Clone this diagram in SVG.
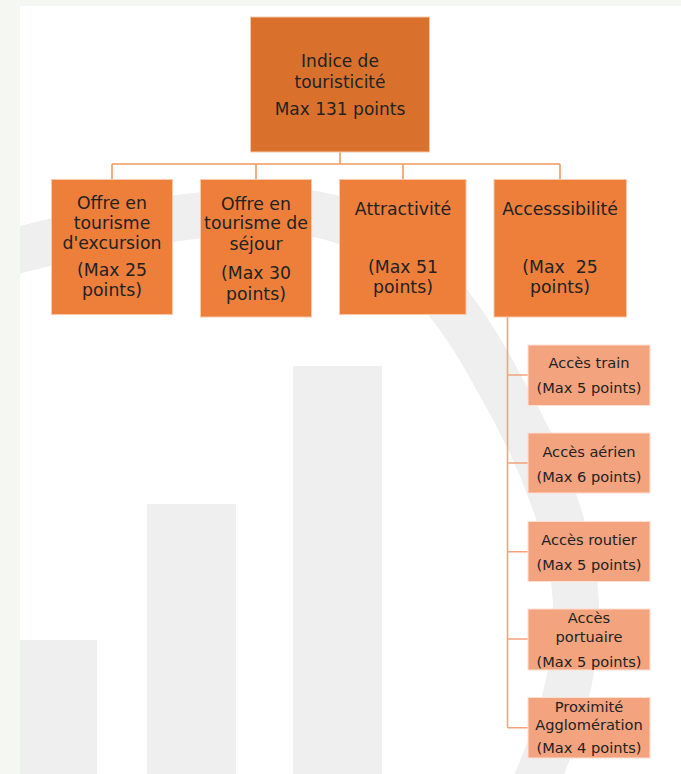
<svg xmlns="http://www.w3.org/2000/svg" width="681" height="774" viewBox="0 0 681 774">
<style>
  .bg { fill: #efefef; }
  .top { fill: #d9712d; stroke: #f6c9ad; stroke-width: 1; }
  .l1 { fill: #ee7f3b; stroke: #f8c9ab; stroke-width: 1; }
  .l2 { fill: #f3a47f; stroke: #fbe0d2; stroke-width: 1; }
  .conn { fill: none; stroke: #f09a62; stroke-width: 1.6; }
  .conn2 { fill: none; stroke: #f3a27e; stroke-width: 1.6; }
  text { font-family: "DejaVu Sans", "Liberation Sans", sans-serif; fill: #222222; text-anchor: middle; }
  .t16 { font-size: 17px; }
  .t17 { font-size: 17.3px; }
  .t14 { font-size: 14.6px; }
</style>
<defs>
  <clipPath id="panel"><rect x="20" y="6" width="661" height="768"/></clipPath>
</defs>
<rect x="0" y="0" width="681" height="774" fill="#f5f8f2"/>
<rect x="20" y="6" width="661" height="768" fill="#ffffff"/>
<g id="background" clip-path="url(#panel)">
  <path d="M -10,258 C 60,238 200,205 300,212 C 390,220 450,290 500,385 C 538,450 576,540 576,610 C 576,680 558,730 533,790" fill="none" stroke="#efefef" stroke-width="46"/>
  <rect class="bg" x="20" y="640" width="77" height="134"/>
  <rect class="bg" x="147" y="504" width="89" height="270"/>
  <rect class="bg" x="293" y="366" width="89" height="408"/>
</g>
<g id="connectors">
  <path class="conn" d="M340,152 V164 M112,164 H560 M112,164 V179 M256,164 V179 M403,164 V179 M560,164 V179"/>
  <path class="conn2" d="M507.5,317 V727.7 M507.5,375 H528 M507.5,463 H528 M507.5,551.7 H528 M507.5,639 H528 M507.5,727.7 H528"/>
</g>
<g id="root">
  <rect class="top" x="250.5" y="17" width="179" height="135"/>
  <text class="t16" x="340" y="67">Indice de</text>
  <text class="t16" x="340" y="88">touristicité</text>
  <text class="t16" x="340" y="115">Max 131 points</text>
</g>
<g id="excursion">
  <rect class="l1" x="51.5" y="179.5" width="121" height="135"/>
  <text class="t17" x="112" y="209">Offre en</text>
  <text class="t17" x="112" y="229">tourisme</text>
  <text class="t17" x="112" y="249">d'excursion</text>
  <text class="t17" x="112" y="276">(Max 25</text>
  <text class="t17" x="112" y="296">points)</text>
</g>
<g id="sejour">
  <rect class="l1" x="200.5" y="179.5" width="111" height="137.5"/>
  <text class="t17" x="256" y="210">Offre en</text>
  <text class="t17" x="256" y="229">tourisme de</text>
  <text class="t17" x="256" y="250">séjour</text>
  <text class="t17" x="256" y="279">(Max 30</text>
  <text class="t17" x="256" y="300">points)</text>
</g>
<g id="attractivite">
  <rect class="l1" x="339.5" y="179.5" width="126.5" height="135"/>
  <text class="t17" x="403" y="215">Attractivité</text>
  <text class="t17" x="403" y="273">(Max 51</text>
  <text class="t17" x="403" y="293">points)</text>
</g>
<g id="accessibilite">
  <rect class="l1" x="494" y="179.5" width="132.5" height="137.5"/>
  <text class="t17" x="560" y="215">Accesssibilité</text>
  <text class="t17" x="560" y="273" xml:space="preserve">(Max  25</text>
  <text class="t17" x="560" y="293">points)</text>
</g>
<g id="train">
  <rect class="l2" x="528" y="345" width="122" height="60.5"/>
  <text class="t14" x="589" y="368.3">Accès train</text>
  <text class="t14" x="589" y="393">(Max 5 points)</text>
</g>
<g id="aerien">
  <rect class="l2" x="528" y="433" width="122" height="60"/>
  <text class="t14" x="589" y="456.7">Accès aérien</text>
  <text class="t14" x="589" y="481.7">(Max 6 points)</text>
</g>
<g id="routier">
  <rect class="l2" x="528" y="521.5" width="122" height="60"/>
  <text class="t14" x="589" y="545">Accès routier</text>
  <text class="t14" x="589" y="570">(Max 5 points)</text>
</g>
<g id="portuaire">
  <rect class="l2" x="528" y="609" width="122" height="61"/>
  <text class="t14" x="589" y="623">Accès</text>
  <text class="t14" x="589" y="641.7">portuaire</text>
  <text class="t14" x="589" y="666.7">(Max 5 points)</text>
</g>
<g id="agglomeration">
  <rect class="l2" x="528" y="697.5" width="122" height="60.5"/>
  <text class="t14" x="589" y="711.7">Proximité</text>
  <text class="t14" x="589" y="730">Agglomération</text>
  <text class="t14" x="589" y="753.3">(Max 4 points)</text>
</g>
</svg>
